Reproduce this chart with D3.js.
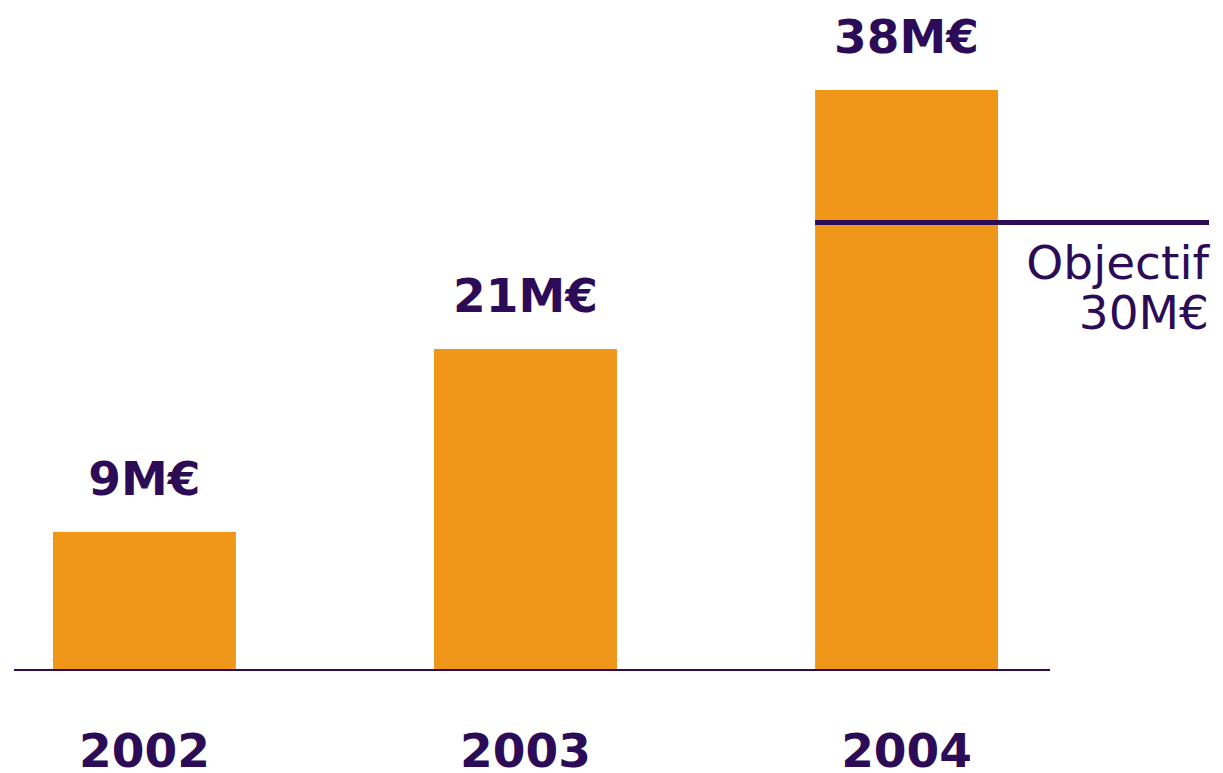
<!DOCTYPE html>
<html>
<head>
<meta charset="utf-8">
<script src="https://cdn.jsdelivr.net/npm/d3@7"></script>
<style>
  html, body { margin: 0; padding: 0; background: #ffffff; }
  svg { display: block; }
</style>
</head>
<body>
<svg id="chart" width="1223" height="773"></svg>
<script>
// ---- data ----
const years = ["2002", "2003", "2004"];
const values = [9, 21, 38];            // M€
const valueLabels = ["9M€", "21M€", "38M€"];
const objectiveValue = 29.3;           // line position
const objectiveLabel = ["Objectif", "30M€"];

// ---- styles ----
const purple = "#2c0c57";
const orange = "#f09619";
const font = "'DejaVu Sans', Verdana, sans-serif";

const svg = d3.select("#chart");

const x = d3.scaleBand()
  .domain(years)
  .range([53, 998])
  .paddingInner(0.52)
  .paddingOuter(0);

const y = d3.scaleLinear()
  .domain([0, 38])
  .range([669, 90]);

const data = years.map((yr, i) => ({ year: yr, value: values[i], label: valueLabels[i] }));

// bars
svg.append("g").selectAll("rect")
  .data(data)
  .join("rect")
  .attr("x", d => x(d.year))
  .attr("y", d => y(d.value))
  .attr("width", x.bandwidth())
  .attr("height", d => y(0) - y(d.value))
  .attr("fill", orange);

// baseline
svg.append("line")
  .attr("x1", 14).attr("x2", 1050)
  .attr("y1", y(0) + 1).attr("y2", y(0) + 1)
  .attr("stroke", purple)
  .attr("stroke-width", 2);

// objective line
svg.append("line")
  .attr("x1", x("2004")).attr("x2", 1209)
  .attr("y1", y(objectiveValue)).attr("y2", y(objectiveValue))
  .attr("stroke", purple)
  .attr("stroke-width", 5);

// objective label
svg.append("text")
  .attr("x", 1209)
  .attr("y", y(objectiveValue) + 56)
  .attr("text-anchor", "end")
  .attr("font-family", font)
  .attr("font-size", 47)
  .attr("fill", purple)
  .selectAll("tspan")
  .data(objectiveLabel)
  .join("tspan")
  .attr("x", 1209)
  .attr("dy", (d, i) => i === 0 ? 0 : 50)
  .text(d => d);

// value labels
svg.append("g").selectAll("text")
  .data(data)
  .join("text")
  .attr("x", d => x(d.year) + x.bandwidth() / 2)
  .attr("y", d => y(d.value) - 37)
  .attr("text-anchor", "middle")
  .attr("font-family", font)
  .attr("font-weight", "bold")
  .attr("font-size", 47)
  .attr("fill", purple)
  .text(d => d.label);

// year labels (category axis)
const xAxis = d3.axisBottom(x).tickSize(0).tickPadding(0);
const axisG = svg.append("g")
  .attr("transform", `translate(0, ${y(0)})`)
  .call(xAxis);
axisG.select(".domain").remove();
axisG.selectAll("text")
  .attr("dy", null)
  .attr("y", 98)
  .attr("font-family", font)
  .attr("font-weight", "bold")
  .attr("font-size", 47)
  .attr("fill", purple);
</script>
</body>
</html>
